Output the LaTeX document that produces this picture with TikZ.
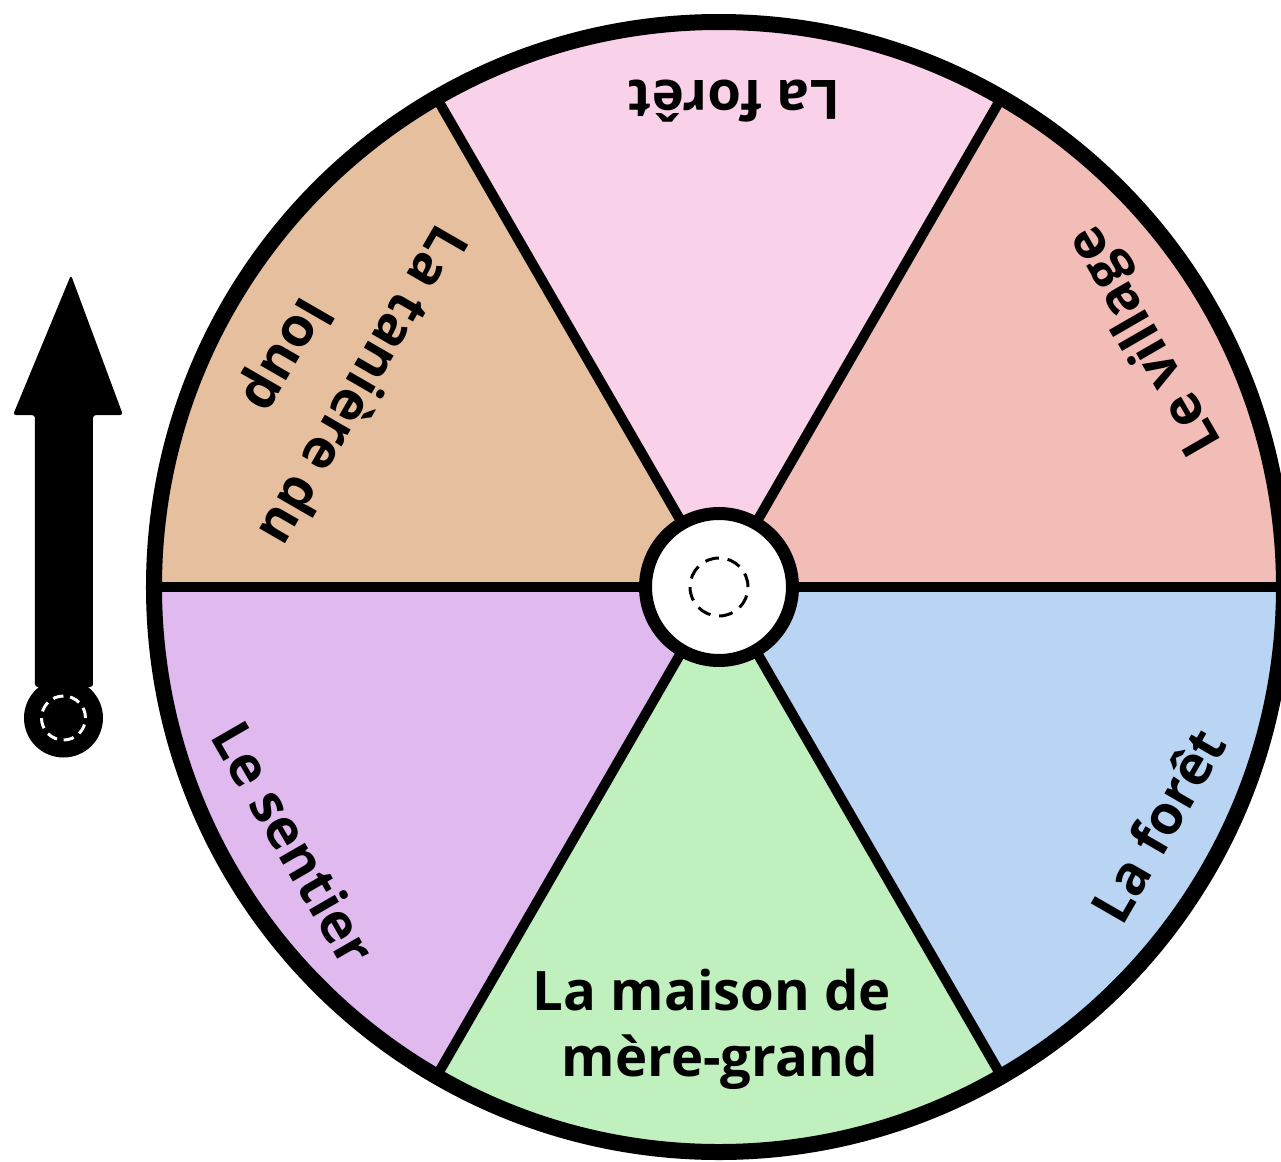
\documentclass[tikz,border=0pt]{standalone}
\usepackage{fontspec}
\setmainfont{Open Sans}
\definecolor{wpink}{RGB}{249,209,233}
\definecolor{wsalmon}{RGB}{242,189,182}
\definecolor{wtan}{RGB}{230,192,158}
\definecolor{wpurple}{RGB}{224,186,239}
\definecolor{wgreen}{RGB}{193,240,191}
\definecolor{wblue}{RGB}{186,212,243}
\tikzset{
  rimline/.style={draw=black, line width=0.32cm},
  spoke/.style={draw=black, line width=0.2cm},
  sectorlabel/.style={font=\bfseries\fontsize{31}{37.6}\selectfont, align=center, inner sep=0pt, text=black},
  hubring/.style={circle, draw=black, fill=white, line width=0.26cm, minimum size=2.94cm, inner sep=0pt},
  pindash/.style={line width=0.06cm, dash pattern=on 0.28cm off 0.1755cm},
  smallpin/.style={draw=white, line width=0.06cm, dash pattern=on 0.21cm off 0.1356cm}
}
\begin{document}
\begin{tikzpicture}[x=0.02cm, y=0.02cm]
  % page frame, wheel centre at the origin
  \useasboundingbox (-719,-574) rectangle (562,587);

  % six coloured sectors
  \fill[wsalmon] (0,0) -- (0:565) arc[start angle=0, end angle=60, radius=565] -- cycle;
  \fill[wpink]   (0,0) -- (60:565) arc[start angle=60, end angle=120, radius=565] -- cycle;
  \fill[wtan]    (0,0) -- (120:565) arc[start angle=120, end angle=180, radius=565] -- cycle;
  \fill[wpurple] (0,0) -- (180:565) arc[start angle=180, end angle=240, radius=565] -- cycle;
  \fill[wgreen]  (0,0) -- (240:565) arc[start angle=240, end angle=300, radius=565] -- cycle;
  \fill[wblue]   (0,0) -- (300:565) arc[start angle=300, end angle=360, radius=565] -- cycle;

  % spokes between the sectors
  \coordinate (c) at (0,0);
  \foreach \a in {0,60,...,300} {
    \coordinate (r\a) at (\a:565);
    \draw[spoke] (c) -- (r\a);
  }

  % outer rim
  \draw[rimline] (0,0) circle[radius=565];

  % sector labels, read outward from the hub
  \node[sectorlabel, rotate=120] (village) at (30:494) {Le village};
  \node[sectorlabel, rotate=180] (foretHaut) at (88.2:486) {La forêt};
  \node[sectorlabel, rotate=240] (taniere) at (150.5:453) {La tanière du\\[0.3cm]\hspace*{0.48cm}loup};
  \node[sectorlabel, rotate=300] (sentier) at (211.1:496) {Le sentier};
  \node[sectorlabel] (maison) at (-7,-442.5) {La maison de\\\hspace*{0.32cm}mère-grand};
  \node[sectorlabel, rotate=60] (foretBas) at (-28.5:499) {La forêt};

  % central hub with its dashed pin mark
  \node[hubring] (hub) at (0,0) {};
  \draw[pindash] (hub.center) circle[radius=29];

  % pointer arrow on the left
  \fill[black, rounded corners=0.06cm] (-684,-100) -- (-684,172) -- (-706,172) -- (-648,312)
        -- (-596,172) -- (-626,172) -- (-626,-100) -- cycle;
  \fill[black] (-655.5,-131) circle[radius=39.5];
  \node[circle, inner sep=0pt, minimum size=0pt] (pivot) at (-655.5,-131) {};
  \draw[smallpin] (pivot.center) circle[radius=22];
\end{tikzpicture}
\end{document}
